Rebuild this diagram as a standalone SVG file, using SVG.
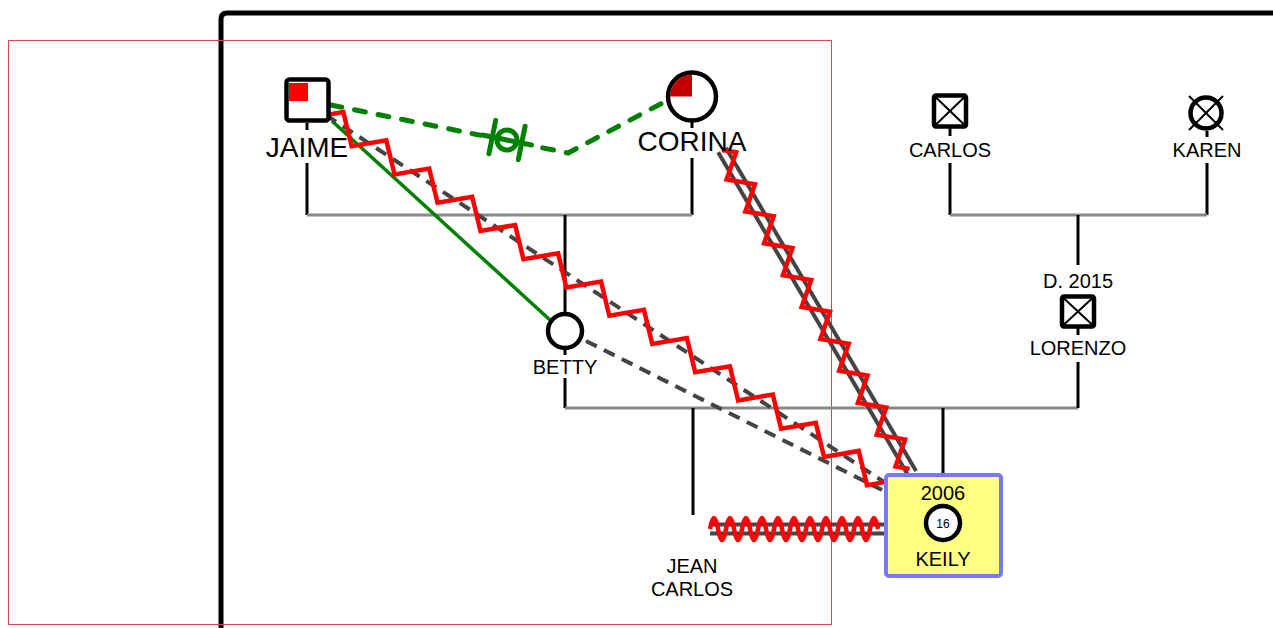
<svg xmlns="http://www.w3.org/2000/svg" width="1273" height="628" viewBox="0 0 1273 628">
<style>
  text { font-family: "Liberation Sans", Arial, sans-serif; fill: #000; text-anchor: middle; }
  .big { font-size: 28px; }
  .lbl { font-size: 20px; }
  .vl { stroke: #000; stroke-width: 3; fill: none; }
  .hl { stroke: #888; stroke-width: 3; fill: none; }
  .sym { stroke: #000; stroke-width: 4.5; fill: #fff; }
  .xl { stroke: #000; stroke-width: 2; }
  .gdash { stroke: #444; stroke-width: 4; stroke-dasharray: 12 8; fill: none; }
  .gline { stroke: #444; stroke-width: 4; fill: none; }
  .zig { stroke: #f00; stroke-width: 4.5; fill: none; stroke-linejoin: miter; }
  .green { stroke: #008000; fill: none; }
</style>
<defs>
  <clipPath id="corClip"><circle cx="692" cy="96.5" r="22"/></clipPath>
</defs>
<rect width="1273" height="628" fill="#fff"/>
<!-- frame -->
<path d="M221,628 V19 Q221,13 227,13 H1273" fill="none" stroke="#000" stroke-width="5"/>
<rect x="8.5" y="40.5" width="823" height="584" fill="none" stroke="#d9434e" stroke-width="1"/>

<!-- family lines -->
<g id="lines">
  <line class="vl" x1="307" y1="123" x2="307" y2="130"/>
  <line class="vl" x1="307" y1="163" x2="307" y2="215"/>
  <line class="vl" x1="692" y1="121" x2="692" y2="128"/>
  <line class="vl" x1="692" y1="158" x2="692" y2="215"/>
  <line class="hl" x1="307" y1="215" x2="692" y2="215"/>
  <line class="vl" x1="565" y1="215" x2="565" y2="314"/>
  <line class="vl" x1="565" y1="349" x2="565" y2="355"/>
  <line class="vl" x1="565" y1="378" x2="565" y2="408"/>
  <line class="hl" x1="565" y1="408" x2="1078" y2="408"/>
  <line class="vl" x1="693" y1="408" x2="693" y2="515" stroke-width="4"/>
  <line class="vl" x1="943" y1="408" x2="943" y2="473"/>
  <line class="vl" x1="950" y1="128" x2="950" y2="136"/>
  <line class="vl" x1="950" y1="163" x2="950" y2="215"/>
  <line class="vl" x1="1207" y1="131" x2="1207" y2="137"/>
  <line class="vl" x1="1207" y1="163" x2="1207" y2="215"/>
  <line class="hl" x1="950" y1="215" x2="1207" y2="215"/>
  <line class="vl" x1="1078" y1="215" x2="1078" y2="265"/>
  <line class="vl" x1="1078" y1="328" x2="1078" y2="335"/>
  <line class="vl" x1="1078" y1="362" x2="1078" y2="408"/>
</g>

<!-- relationship connectors -->
<g id="connectors">
  <!-- JAIME - CORINA green dashed with symbol -->
  <polyline class="green" points="331,105 568,153 668,100" stroke-width="5" stroke-dasharray="11 13" stroke-linecap="round"/>
  <g transform="translate(507,140) rotate(11.4)">
    <rect x="-26" y="-8" width="52" height="16" fill="#fff"/>
    <line class="green" x1="-25" y1="0" x2="25" y2="0" stroke-width="5" stroke-linecap="round"/>
    <circle class="green" cx="0" cy="0" r="10" stroke-width="5" fill="#fff"/>
    <line class="green" x1="-15" y1="-17" x2="-15" y2="17" stroke-width="5" stroke-linecap="round"/>
    <line class="green" x1="15" y1="-17" x2="15" y2="17" stroke-width="5" stroke-linecap="round"/>
  </g>
  <!-- JAIME - BETTY green solid -->
  <line class="green" x1="332" y1="121" x2="550" y2="320" stroke-width="3.5"/>
  <!-- BETTY - KEILY gray dashed -->
  <line class="gdash" x1="586" y1="341" x2="882" y2="490"/>
  <!-- JAIME - KEILY dashed + zigzag -->
  <g transform="translate(326,115) rotate(33.33)">
    <line class="gdash" x1="0" y1="0" x2="668" y2="0"/>
    <path class="zig" d="M0,0 l12.85,-12 l25.7,24 l25.7,-24 l25.7,24 l25.7,-24 l25.7,24 l25.7,-24 l25.7,24 l25.7,-24 l25.7,24 l25.7,-24 l25.7,24 l25.7,-24 l25.7,24 l25.7,-24 l25.7,24 l25.7,-24 l25.7,24 l25.7,-24 l25.7,24 l25.7,-24 l25.7,24 l25.7,-24 l25.7,24 l25.7,-24 l25.7,24 l12.85,-12"/>
  </g>
  <!-- CORINA - KEILY double line + zigzag -->
  <g transform="translate(722,150) rotate(59.53)">
    <line class="gline" x1="0" y1="-4.5" x2="375" y2="-4.5"/>
    <line class="gline" x1="0" y1="4.5" x2="375" y2="4.5"/>
    <path class="zig" d="M0,0 l9.25,-11 l18.5,22 l18.5,-22 l18.5,22 l18.5,-22 l18.5,22 l18.5,-22 l18.5,22 l18.5,-22 l18.5,22 l18.5,-22 l18.5,22 l18.5,-22 l18.5,22 l18.5,-22 l18.5,22 l18.5,-22 l18.5,22 l18.5,-22 l18.5,22 l9.25,-11"/>
  </g>
  <!-- JEAN CARLOS - KEILY double line + wave -->
  <line class="gline" x1="710" y1="524.5" x2="884" y2="524.5"/>
  <line class="gline" x1="710" y1="533.5" x2="884" y2="533.5"/>
  <path class="zig" d="M710,529 q4,-22 8,0 t8,0 t8,0 t8,0 t8,0 t8,0 t8,0 t8,0 t8,0 t8,0 t8,0 t8,0 t8,0 t8,0 t8,0 t8,0 t8,0 t8,0 t8,0 t8,0 t8,0"/>
</g>

<!-- nodes -->
<g id="jaime">
  <rect class="sym" x="286.5" y="79.5" width="42" height="41" rx="3" stroke-width="5"/>
  <rect x="289" y="83" width="19" height="18" fill="#f00"/>
  <text class="big" x="307" y="157">JAIME</text>
</g>
<g id="corina">
  <circle class="sym" cx="692" cy="96.5" r="24" stroke-width="5"/>
  <rect x="670" y="74" width="22" height="22.5" fill="#c00000" clip-path="url(#corClip)"/>
  <text class="big" x="692" y="151">CORINA</text>
</g>
<g id="betty">
  <circle class="sym" cx="565" cy="331" r="17"/>
  <text class="lbl" x="565" y="374">BETTY</text>
</g>
<g id="carlos">
  <rect class="sym" x="934" y="95.5" width="32" height="31" rx="2"/>
  <line class="xl" x1="936" y1="97.5" x2="964" y2="124.5"/>
  <line class="xl" x1="964" y1="97.5" x2="936" y2="124.5"/>
  <text class="lbl" x="950" y="157">CARLOS</text>
</g>
<g id="karen">
  <circle class="sym" cx="1206" cy="113" r="15.5"/>
  <line class="xl" x1="1189" y1="96" x2="1223" y2="130" stroke-width="3"/>
  <line class="xl" x1="1223" y1="96" x2="1189" y2="130" stroke-width="3"/>
  <text class="lbl" x="1207" y="157">KAREN</text>
</g>
<g id="lorenzo">
  <text class="lbl" x="1078" y="288">D. 2015</text>
  <rect class="sym" x="1062" y="296.5" width="32" height="30" rx="2"/>
  <line class="xl" x1="1064" y1="298.5" x2="1092" y2="324.5"/>
  <line class="xl" x1="1092" y1="298.5" x2="1064" y2="324.5"/>
  <text class="lbl" x="1078" y="355">LORENZO</text>
</g>
<g id="jeancarlos">
  <text class="lbl" x="692" y="573">JEAN</text>
  <text class="lbl" x="692" y="596">CARLOS</text>
</g>
<g id="keily">
  <rect x="886" y="475" width="115" height="101" rx="3" fill="#ffff80" stroke="#7777ff" stroke-width="4"/>
  <text class="lbl" x="943" y="500">2006</text>
  <circle class="sym" cx="943" cy="523" r="17" stroke-width="5"/>
  <text x="943" y="527.5" font-size="12">16</text>
  <text class="lbl" x="943" y="566">KEILY</text>
</g>
</svg>
